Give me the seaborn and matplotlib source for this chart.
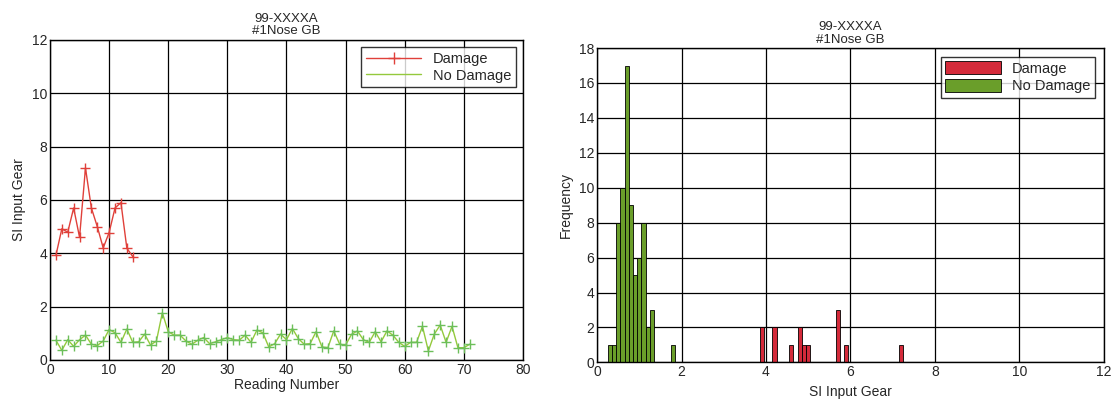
import numpy as np
import pandas as pd
import matplotlib
matplotlib.use("Agg")
import matplotlib.pyplot as plt
from matplotlib.patches import Patch
from matplotlib.lines import Line2D
import seaborn as sns

# SI input gear readings, gearbox #1 nose
damage_si = [3.92, 4.92, 4.79, 5.70, 4.60, 7.20, 5.70, 5.00, 4.20, 4.78,
             5.70, 5.90, 4.19, 3.88]
no_damage_si = [0.74, 0.36, 0.76, 0.51, 0.76, 0.93, 0.59, 0.54, 0.71, 1.14,
                1.02, 0.66, 1.16, 0.66, 0.68, 0.97, 0.56, 0.71, 1.77, 1.06,
                0.93, 0.93, 0.71, 0.59, 0.74, 0.84, 0.61, 0.68, 0.76, 0.84,
                0.76, 0.74, 0.93, 0.66, 1.12, 1.02, 0.49, 0.61, 0.97, 0.76,
                1.18, 0.80, 0.59, 0.61, 1.06, 0.49, 0.46, 1.09, 0.59, 0.56,
                0.96, 1.09, 0.76, 0.66, 1.06, 0.68, 1.09, 0.93, 0.66, 0.51,
                0.66, 0.66, 1.26, 0.34, 0.97, 1.31, 0.66, 1.26, 0.46, 0.46,
                0.59]
series_names = ["Damage", "No Damage"]
title_text = "99-XXXXA\n#1Nose GB"

red = "#e0403a"
green = "#94c93c"
green_marker = "#6cbf5a"
bar_red = "#d42a3a"
bar_green = "#6a9e2a"

sns.set_theme(style="white")
plt.rcParams["font.family"] = ["Liberation Sans", "DejaVu Sans"]

df_line = pd.concat([
    pd.DataFrame({"Reading": np.arange(1, len(damage_si) + 1),
                  "SI": damage_si, "Group": series_names[0]}),
    pd.DataFrame({"Reading": np.arange(1, len(no_damage_si) + 1),
                  "SI": no_damage_si, "Group": series_names[1]}),
], ignore_index=True)

fig = plt.figure(figsize=(11.16, 4.04), dpi=100)
ax1 = fig.add_axes([0.0448, 0.109, 0.4238, 0.792])
ax2 = fig.add_axes([0.535, 0.103, 0.454, 0.778])

# Reading-by-reading trend
for name, col, mcol in zip(series_names, [red, green], [red, green_marker]):
    sub = df_line[df_line["Group"] == name]
    sns.lineplot(data=sub, x="Reading", y="SI", ax=ax1, color=col,
                 linewidth=1.0, marker="+", markersize=7,
                 markeredgecolor=mcol, markeredgewidth=1.0, legend=False)

ax1.set_xlim(0, 80)
ax1.set_ylim(0, 12)
ax1.set_xticks(np.arange(0, 81, 10))
ax1.set_yticks(np.arange(0, 13, 2))
ax1.set_xlabel("Reading Number", fontsize=10, labelpad=1)
ax1.set_ylabel("SI Input Gear", fontsize=10, labelpad=4)
ax1.set_title(title_text, fontsize=9.5, pad=4, linespacing=1.1)
handles1 = [Line2D([], [], color=red, marker="+", markersize=9, lw=1.0),
            Line2D([], [], color=green, lw=1.0)]
ax1.legend(handles1, series_names, loc="upper right", fontsize=10.5,
           frameon=True, fancybox=False, edgecolor="black",
           borderaxespad=0.5, handlelength=3.8, borderpad=0.3,
           labelspacing=0.2)

# Distribution of SI values
df_hist = df_line[["SI", "Group"]]
edges = np.arange(0.25, 7.36, 0.1)
sns.histplot(data=df_hist, x="SI", hue="Group", bins=edges,
             multiple="layer", alpha=1.0, ax=ax2, legend=False,
             palette={series_names[0]: bar_red, series_names[1]: bar_green},
             edgecolor="black", linewidth=0.6)
ax2.set_xlim(0, 12)
ax2.set_ylim(0, 18)
ax2.set_xticks(np.arange(0, 13, 2))
ax2.set_yticks(np.arange(0, 19, 2))
ax2.set_xlabel("SI Input Gear", fontsize=10, labelpad=4)
ax2.set_ylabel("Frequency", fontsize=10, labelpad=4)
ax2.set_title(title_text, fontsize=9.5, pad=4, linespacing=1.1)
handles2 = [Patch(facecolor=bar_red, edgecolor="black", linewidth=0.6),
            Patch(facecolor=bar_green, edgecolor="black", linewidth=0.6)]
ax2.legend(handles2, series_names, loc="upper right", fontsize=10.5,
           frameon=True, fancybox=False, edgecolor="black",
           borderaxespad=0.6, handlelength=3.8, handleheight=1.0,
           borderpad=0.3, labelspacing=0.2)

for ax in (ax1, ax2):
    ax.grid(True, color="black", linewidth=0.9)
    ax.set_axisbelow(True)
    for s in ax.spines.values():
        s.set_color("black")
        s.set_linewidth(1.0)
    ax.tick_params(axis="both", labelsize=10, length=0, pad=2)

fig.savefig("out.png", dpi=100, facecolor="white")
